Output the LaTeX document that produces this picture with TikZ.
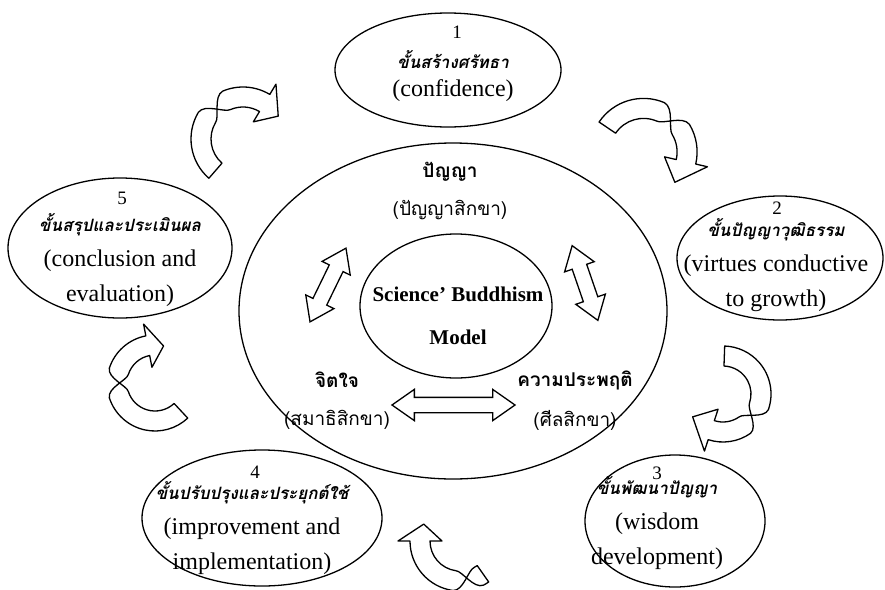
\documentclass[tikz,border=0pt]{standalone}
\usepackage{fontspec}
\setmainfont{Liberation Serif}
\newfontfamily\thaifont[Script=Thai]{Loma}
\usepackage{tikz}
\usetikzlibrary{shapes, shapes.arrows, shapes.geometric, positioning, calc}

\newcommand{\thaistage}{\thaifont\bfseries\itshape\fontsize{17}{35}\selectfont}
% curved block arrow with a twist: centre, tail angle, twist angle, head angle, tip angle, radius
\newcommand{\bentarrow}[6]{%
  \draw[ribbon] ($(#1)+({#2}:{#6-10})$) arc[start angle={#2}, end angle={#3-18}, radius={#6-10}]
    .. controls ($(#1)+({#3-6}:{#6-10})$) and ($(#1)+({#3+6}:{#6+10})$) .. ($(#1)+({#3+18}:{#6+10})$)
    arc[start angle={#3+18}, end angle={#4}, radius={#6+10}]
    -- ($(#1)+({#4}:{#6+22})$) -- ($(#1)+({#5}:{#6})$) -- ($(#1)+({#4}:{#6-22})$)
    -- ($(#1)+({#4}:{#6-10})$) arc[start angle={#4}, end angle={#3+18}, radius={#6-10}]
    .. controls ($(#1)+({#3+6}:{#6-10})$) and ($(#1)+({#3-6}:{#6+10})$) .. ($(#1)+({#3-18}:{#6+10})$)
    arc[start angle={#3-18}, end angle={#2}, radius={#6+10}] -- cycle;}

\begin{document}
\begin{tikzpicture}[x=1pt, y=-1pt,
    stage/.style={ellipse, draw, line width=1.3pt, inner sep=0pt},
    stagetext/.style={align=center, inner sep=0pt, font=\fontsize{24}{35}\selectfont},
    stepno/.style={inner sep=0pt, font=\fontsize{19}{22}\selectfont},
    pillar/.style={inner sep=0pt, font=\thaifont\bfseries\fontsize{19}{22}\selectfont},
    pillarsub/.style={inner sep=0pt, font=\thaifont\fontsize{19}{22}\selectfont},
    twoway/.style={double arrow, draw, line width=1.3pt, fill=white, inner xsep=0pt, inner ysep=7pt,
      double arrow head extend=8pt, double arrow tip angle=70},
    ribbon/.style={draw, line width=1.3pt, fill=white, line join=round}]
  \useasboundingbox (0,0) rectangle (885,589);

  % the model in the middle
  \node[stage, minimum width=428, minimum height=336] (outer) at (453,311) {};
  \node[stage, minimum width=192, minimum height=144] (core) at (456,306) {};
  \node[align=center, inner sep=0pt, font=\bfseries\fontsize{21}{43}\selectfont] (model) at (458,316) {Science’ Buddhism\\Model};

  \node[pillar] (wisdom) at (450,172) {ปัญญา};
  \node[pillarsub] (wisdomsub) at (450,210) {(ปัญญาสิกขา)};
  \node[pillar] (mind) at (337,380) {จิตใจ};
  \node[pillarsub] (mindsub) at (337,420) {(สมาธิสิกขา)};
  \node[pillar] (conduct) at (575,380) {ความประพฤติ};
  \node[pillarsub] (conductsub) at (575,420) {(ศีลสิกขา)};

  \node[twoway, minimum height=82, rotate=64] (wm) at (328,285) {};
  \node[twoway, minimum height=79, rotate=-71] (wc) at (585,283) {};
  \node[twoway, minimum height=123] (mc) at (453.5,405) {};

  % the five stages
  \node[stage, minimum width=226, minimum height=114] (s1) at (448,70) {};
  \node[stepno] (n1) at (457,32) {1};
  \node[stagetext] (t1) at (453,76) {{\thaistage ขั้นสร้างศรัทธา}\\[-7pt](confidence)};

  \node[stage, minimum width=206, minimum height=124] (s2) at (780,258) {};
  \node[stepno] (n2) at (777,208) {2};
  \node[stagetext] (t2) at (776,265.5) {{\thaistage ขั้นปัญญาวุฒิธรรม}\\(virtues conductive\\to growth)};

  \node[stage, minimum width=180, minimum height=132] (s3) at (675,521) {};
  \node[stepno] (n3) at (657,473) {3};
  \node[stagetext] (t3) at (657,523.5) {{\thaistage ขั้นพัฒนาปัญญา}\\(wisdom\\development)};

  \node[stage, minimum width=240, minimum height=136] (s4) at (262,518) {};
  \node[stepno] (n4) at (255,472) {4};
  \node[stagetext] (t4) at (252,528.5) {{\thaistage ขั้นปรับปรุงและประยุกต์ใช้}\\(improvement and\\implementation)};

  \node[stage, minimum width=224, minimum height=140] (s5) at (120,248) {};
  \node[stepno] (n5) at (122,198) {5};
  \node[stagetext] (t5) at (120,260.5) {{\thaistage ขั้นสรุปและประเมินผล}\\(conclusion and\\evaluation)};

  % arrows between the stages
  \coordinate (ca) at (243,139);
  \coordinate (cb) at (643.5,152);
  \coordinate (cc) at (723,394);
  \coordinate (cd) at (460,541);
  \coordinate (ce) at (155,383);
  \bentarrow{ca}{131}{229}{301}{327}{42}
  \bentarrow{cb}{214}{311}{373}{404}{43.6}
  \bentarrow{cc}{272}{397}{468}{503}{38}
  \bentarrow{cd}{55}{80}{180}{205}{40}
  \bentarrow{ce}{47}{180}{259}{283}{38}
\end{tikzpicture}
\end{document}
